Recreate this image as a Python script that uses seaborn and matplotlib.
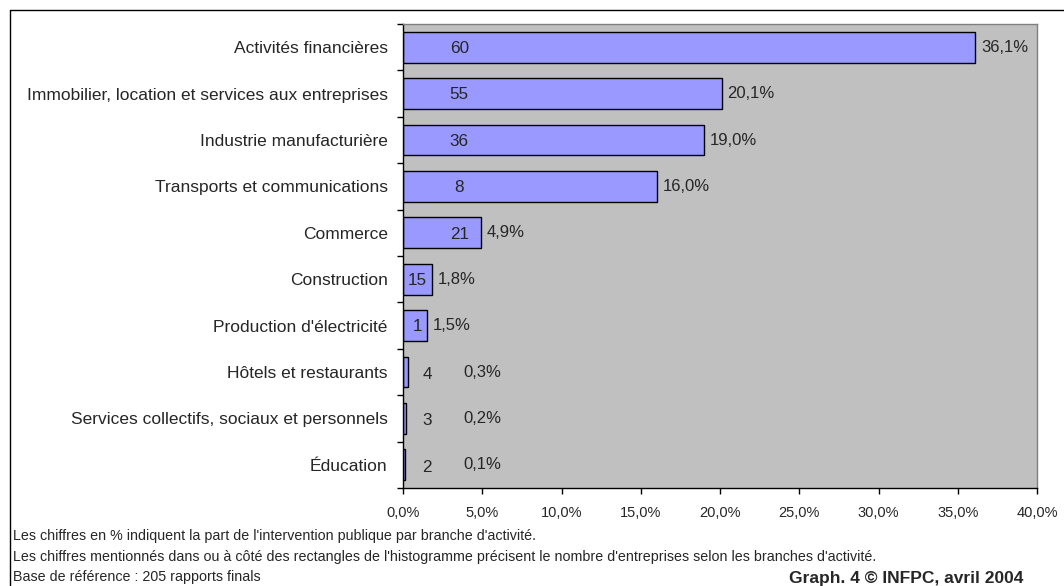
import matplotlib
matplotlib.use("Agg")
import matplotlib.pyplot as plt
import matplotlib.lines as mlines
import seaborn as sns
import pandas as pd
import numpy as np

categories = [
    "Activités financières",
    "Immobilier, location et services aux entreprises",
    "Industrie manufacturière",
    "Transports et communications",
    "Commerce",
    "Construction",
    "Production d'électricité",
    "Hôtels et restaurants",
    "Services collectifs, sociaux et personnels",
    "Éducation",
]
share_pct = [36.1, 20.1, 19.0, 16.0, 4.9, 1.8, 1.5, 0.3, 0.2, 0.1]
companies = [60, 55, 36, 8, 21, 15, 1, 4, 3, 2]
x_ticks = [0, 5, 10, 15, 20, 25, 30, 35, 40]

footnotes = [
    "Les chiffres en % indiquent la part de l'intervention publique par branche d'activité.",
    "Les chiffres mentionnés dans ou à côté des rectangles de l'histogramme précisent le nombre d'entreprises selon les branches d'activité.",
    "Base de référence : 205 rapports finals",
]
credit = "Graph. 4 © INFPC, avril 2004"

df = pd.DataFrame({"branche": categories, "part": share_pct, "entreprises": companies})

sns.set_theme(style="white")
plt.rcParams["font.family"] = ["Liberation Sans", "DejaVu Sans"]

W, H = 1064, 586
fig = plt.figure(figsize=(W / 100, H / 100), dpi=100)
ax = fig.add_axes([403 / W, 98 / H, 634 / W, 464 / H])
ax.set_facecolor("#C0C0C0")

sns.barplot(data=df, y="branche", x="part", orient="h", color="#9999FF",
            saturation=1, edgecolor="black", linewidth=1.0, width=0.66, ax=ax)

ax.set_xlim(0, 40)
ax.set_ylim(len(categories) - 0.5, -0.5)
ax.set_xlabel("")
ax.set_ylabel("")

ax.set_xticks(x_ticks)
ax.set_xticklabels([f"{t:.1f}%".replace(".", ",") for t in x_ticks], fontsize=10.5)
ax.tick_params(axis="x", direction="out", length=4, width=1, color="black",
               pad=9, bottom=True)

ax.set_yticks(range(len(categories)))
ax.set_yticklabels(categories, fontsize=12.5)
ax.tick_params(axis="y", which="major", length=0, pad=11)
ax.set_yticks(np.arange(-0.5, len(categories), 1.0), minor=True)
ax.tick_params(axis="y", which="minor", direction="out", length=4.3, width=1,
               color="black", left=True)

for side in ("top", "right"):
    ax.spines[side].set_color("#808080")
    ax.spines[side].set_linewidth(1)
for side in ("left", "bottom"):
    ax.spines[side].set_color("black")
    ax.spines[side].set_linewidth(1)

# value labels: company counts inside / beside the bars, shares after them
for i, (p, n) in enumerate(zip(share_pct, companies)):
    pct_txt = f"{p:.1f}%".replace(".", ",")
    if p >= 4:
        ax.text(3.55, i + 0.03, str(n), ha="center", va="center", fontsize=12.3)
        ax.text(p + 0.38, i, pct_txt, ha="left", va="center", fontsize=12)
    elif p >= 1:
        ax.text(p - 0.3, i + 0.03, str(n), ha="right", va="center", fontsize=12.3)
        ax.text(p + 0.4, i, pct_txt, ha="left", va="center", fontsize=12)
    else:
        ax.text(1.52, i + 0.05, str(n), ha="center", va="center", fontsize=12.3)
        ax.text(3.78, i, pct_txt, ha="left", va="center", fontsize=12)

# outer frame (top and left edges)
fig.add_artist(mlines.Line2D([10 / W, 1.0], [1 - 10 / H, 1 - 10 / H],
                             transform=fig.transFigure, color="black", lw=1))
fig.add_artist(mlines.Line2D([10 / W, 10 / W], [0, 1 - 10 / H],
                             transform=fig.transFigure, color="black", lw=1))

for y_px, line in zip([536, 557, 577], footnotes):
    fig.text(13 / W, 1 - y_px / H, line, ha="left", va="center", fontsize=10.3)
fig.text(1023 / W, 1 - 579 / H, credit, ha="right", va="center",
         fontsize=12.5, fontweight="bold")

fig.savefig("out.png", dpi=100, facecolor="white")
